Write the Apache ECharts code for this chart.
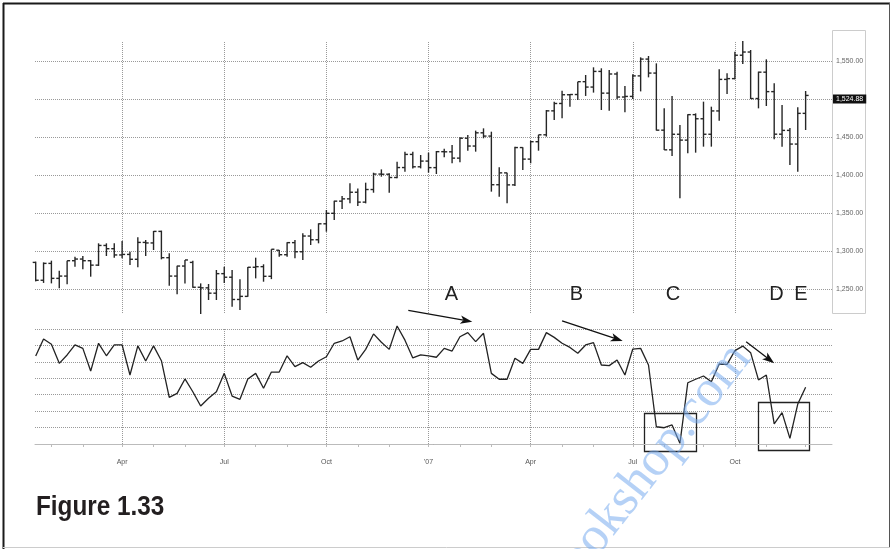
<!DOCTYPE html>
<html><head><meta charset="utf-8">
<script src="https://cdn.jsdelivr.net/npm/echarts@6/dist/echarts.min.js"></script>
<style>html,body{margin:0;padding:0;background:#fff}#c{width:894px;height:549px}</style>
</head><body><div id="c"></div>
<script>
// ---- data (weekly bars, each plotted at its week start, Saturday) ----
const firstWeekStart = '2006-01-14';
const opens = [1285,1261.5,1283.7,1264,1267,1287.2,1289.4,1287.2,1281.4,1307.3,1303,1294.8,1295.5,1289.1,1311.3,1310.6,1325.8,1291.2,1267,1280.2,1285,1252.3,1251.5,1244.5,1270.2,1265.5,1236.2,1240.3,1278.6,1279.4,1266.7,1301,1295.1,1311,1299,1319.7,1314.8,1335.8,1349.6,1365.6,1368.6,1377.3,1364.3,1380.9,1401.2,1401,1396.7,1409.8,1427.1,1410.8,1418.3,1409.7,1430.7,1430.5,1422.2,1448.4,1438.1,1455.5,1451.2,1387.2,1402.8,1387,1436.1,1420.9,1443.8,1452.9,1484.4,1494.1,1505.6,1505.9,1522.8,1515.7,1536.3,1507.7,1532.9,1502.6,1503.4,1530.4,1552.5,1534.1,1459,1433.1,1453.6,1445.9,1479.4,1474,1453.6,1484.3,1525.8,1526.8,1557.6,1561.8,1500.6,1535.3,1509.7,1453.7,1458.7,1440.7,1481.1];
const highs = [1286,1285,1287.3,1274.1,1287.3,1292.5,1293.4,1288.2,1310.1,1310.1,1310.1,1313.2,1299.1,1318,1314.5,1326.3,1326.8,1296.9,1280.5,1288.2,1287.3,1257.4,1256.6,1275,1279.4,1275,1262.8,1279,1291.2,1282.5,1302.3,1301.3,1311.4,1314.4,1323.2,1328.5,1336.4,1353.9,1366.2,1372.3,1389,1382.4,1389.9,1403,1407.4,1402.2,1417.5,1430.7,1430.7,1426.3,1429.4,1431.6,1434.7,1439.5,1449.6,1452.7,1458.4,1461.4,1457,1410.1,1403.1,1437.3,1436.4,1445.2,1452.9,1485.5,1496.5,1511,1506.6,1522.8,1531.6,1541.7,1540.4,1538.2,1536,1517.1,1532.5,1554.8,1556.6,1546.9,1487.7,1504,1465.8,1479.8,1481.1,1496.5,1489.9,1539,1533.8,1562.3,1576.3,1564.5,1536,1552.2,1520.6,1492.1,1462,1489,1510.5];
const lows = [1260,1258,1257.4,1251,1256.1,1279.4,1275.9,1266.2,1280.3,1293.4,1291.2,1290.3,1281.6,1278.5,1293.4,1301.3,1289,1254.4,1243,1257.4,1251.8,1217.1,1235.5,1235.5,1258,1226.8,1222.4,1239.9,1264,1259.6,1263,1292.5,1292.5,1290.3,1288.1,1307.9,1310.1,1325.4,1340.8,1355.2,1362.7,1359.2,1362.7,1376.7,1397.8,1376.7,1395.6,1404.4,1408.7,1408.7,1403.1,1401.3,1423.3,1415.4,1416.7,1432,1430.7,1448.3,1378.1,1371.5,1362.7,1385.5,1406.6,1415.4,1432,1450.5,1472.4,1474.6,1489.9,1498.7,1504,1508.4,1485.5,1484.7,1499.6,1482.5,1500,1510,1528.5,1458.5,1432.9,1425,1369.3,1428.5,1429.4,1437.3,1437.3,1471.5,1506.6,1525.9,1546.1,1500,1487.7,1490.8,1446.9,1437.3,1413.2,1404.4,1459.2];
const closes = [1261.5,1283.7,1264,1267,1287.2,1289.4,1287.2,1281.4,1307.3,1303,1294.8,1295.5,1289.1,1311.3,1310.6,1325.8,1291.2,1267,1280.2,1288.2,1252.3,1251.5,1244.5,1270.2,1265.5,1236.2,1240.3,1278.6,1279.4,1266.7,1302.3,1295.1,1311,1299,1319.7,1314.8,1335.8,1349.6,1365.6,1368.6,1377.3,1364.3,1380.9,1401.2,1401,1396.7,1409.8,1427.1,1410.8,1418.3,1409.7,1430.7,1430.5,1422.2,1448.4,1438.1,1455.5,1451.2,1387.2,1402.8,1387,1436.1,1420.9,1443.8,1452.9,1484.4,1494.1,1505.6,1505.9,1522.8,1515.7,1536.3,1507.7,1532.9,1502.6,1503.4,1530.4,1552.5,1534.1,1459,1433.1,1453.6,1445.9,1479.4,1474,1453.6,1484.3,1525.8,1526.8,1557.6,1561.8,1500.6,1535.3,1509.7,1453.7,1458.7,1440.7,1481.1,1504.7];
const oscillator = [53.6,63.9,60.7,49.1,54.2,60.3,58.2,44.4,61.3,53.7,60.3,60.3,42.0,59.7,50.5,59.7,50.7,28.4,30.8,39.6,31.8,23.1,27.8,31.8,43.0,29.2,27.2,39.6,43.0,33.9,43.8,43.8,53.7,47.1,49.5,46.7,50.5,53.1,61.3,62.7,65.3,51.1,57.6,67.0,61.9,57.6,71.8,63.2,52.4,54.3,53.7,52.8,58.2,56.6,65.3,67.8,62.3,67.4,43.0,39.4,39.4,52.2,49.1,57.6,57.6,67.8,64.9,61.3,58.8,55.2,60.3,61.7,48.1,47.7,51.1,42.0,57.8,58.2,48.1,10.5,9.9,11.6,0.4,37.3,39.4,41.4,37.9,48.7,48.5,56.8,59.6,55.6,39.0,42.0,12.2,19.1,3.4,24.3,34.5];
const priceTicks = [1250,1300,1350,1400,1450,1500,1550];
const lastPriceTag = '1,524.88';
const tagLevel = 1500;
const quarterLabels = ['Apr','Jul','Oct',"'07",'Apr','Jul','Oct'];
const letters = ['A','B','C','D','E'];
// annotation anchors (date, oscillator value)
const arrows = [
  [['2006-12-12',81.3],['2007-02-07',74.4]],
  [['2007-04-28',75.0],['2007-06-21',62.7]],
  [['2007-10-09',62.3],['2007-11-03',49.2]]
];
const boxes = [
  [['2007-07-10',18.7],['2007-08-25',-4.3]],
  [['2007-10-20',25.6],['2007-12-04',-3.7]]
];

// ---- helpers ----
const DAY = 86400000;
function utc(s){const p=s.split('-').map(Number);return Date.UTC(p[0],p[1]-1,p[2]);}
const t0 = utc(firstWeekStart);
const weeks = closes.map((_, i) => t0 + i * 7 * DAY);
const monthTicks = [], quarterTicks = [];
weeks.forEach(ts => {
  for (let k = 0; k < 7; k++) {
    const d = new Date(ts + k * DAY);
    if (d.getUTCDate() === 1) {
      monthTicks.push(ts);
      if (d.getUTCMonth() % 3 === 0) quarterTicks.push(ts);
    }
  }
});
const xMin = t0 - 0.62 * DAY, xMax = t0 + 709.5 * DAY;
const ohlc = weeks.map((t, i) => [t, opens[i], highs[i], lows[i], closes[i]]);
const osc = weeks.map((t, i) => [t, oscillator[i]]);
function fmtPrice(v){return v.toLocaleString('en-US',{minimumFractionDigits:2,maximumFractionDigits:2});}

const grid = {color:'#999', type:[1,1], width:1};
const chart = echarts.init(document.getElementById('c'), null, {renderer:'canvas'});
chart.setOption({
  animation:false,
  backgroundColor:'#fff',
  textStyle:{fontFamily:'Liberation Sans, Arial, sans-serif'},
  grid:[
    {left:35, right:62, top:42, height:271},
    {left:35, right:62, top:329, height:115}
  ],
  xAxis:[
    {type:'value', gridIndex:0, min:xMin, max:xMax, axisLine:{show:false}, axisLabel:{show:false},
     axisTick:{show:false, customValues:quarterTicks}, splitLine:{show:true, lineStyle:grid}},
    {type:'value', gridIndex:1, min:xMin, max:xMax, offset:9,
     axisLine:{show:true, lineStyle:{color:'#bbb', width:1}},
     axisTick:{show:true, customValues:monthTicks, length:3, lineStyle:{color:'#bbb'}},
     axisLabel:{show:true, customValues:quarterTicks, fontSize:7, color:'#555', margin:6,
       formatter:(v)=>quarterLabels[quarterTicks.indexOf(v)] || ''},
     splitLine:{show:false}},
    {type:'value', gridIndex:1, min:xMin, max:xMax, axisLine:{show:false}, axisLabel:{show:false},
     axisTick:{show:false, customValues:quarterTicks}, splitLine:{show:true, lineStyle:grid}}
  ],
  yAxis:[
    {type:'value', gridIndex:0, position:'right', min:1218.42, max:1575,
     axisLine:{show:false}, axisTick:{show:false, customValues:priceTicks},
     axisLabel:{customValues:priceTicks, margin:1,
       formatter:(v)=> v===tagLevel ? '{tag|'+lastPriceTag+'}' : '{n|'+fmtPrice(v)+'}',
       rich:{n:{fontSize:7, color:'#666', padding:[0,0,0,3]},
             tag:{fontSize:7, color:'#fff', backgroundColor:'#111', padding:[1,3,1,3]}}},
     splitLine:{show:true, lineStyle:grid}},
    {type:'value', gridIndex:1, min:0, max:70, interval:10,
     axisLine:{show:false}, axisTick:{show:false}, axisLabel:{show:false},
     splitLine:{show:true, lineStyle:grid}}
  ],
  series:[
    {type:'custom', xAxisIndex:0, yAxisIndex:0, data:ohlc, encode:{x:0, y:[1,2,3,4]}, clip:false,
     renderItem:function(params, api){
       const t = api.value(0);
       const pO = api.coord([t, api.value(1)]);
       const pH = api.coord([t, api.value(2)]);
       const pL = api.coord([t, api.value(3)]);
       const pC = api.coord([t, api.value(4)]);
       const st = {stroke:'#262626', lineWidth:1.4};
       return {type:'group', children:[
         {type:'line', shape:{x1:pH[0], y1:pH[1], x2:pL[0], y2:pL[1]}, style:st},
         {type:'line', shape:{x1:pO[0]-3, y1:pO[1], x2:pO[0], y2:pO[1]}, style:st},
         {type:'line', shape:{x1:pC[0], y1:pC[1], x2:pC[0]+3, y2:pC[1]}, style:st}
       ]};
     }},
    {type:'line', xAxisIndex:1, yAxisIndex:1, data:osc, showSymbol:false, clip:false,
     lineStyle:{color:'#222', width:1.3}, silent:true}
  ]
});

// ---- annotations, placed through the lower panel's scales ----
const toPx = (d, v) => chart.convertToPixel({xAxisIndex:1, yAxisIndex:1}, [utc(d), v]);
const ann = [];
arrows.forEach(a => {
  const p1 = toPx(a[0][0], a[0][1]), p2 = toPx(a[1][0], a[1][1]);
  const dx = p2[0]-p1[0], dy = p2[1]-p1[1], L = Math.hypot(dx, dy);
  const ux = dx/L, uy = dy/L, nx = -uy, ny = ux;
  const len = 12, hw = 4.2, notch = 9;
  const back = [p2[0]-ux*len, p2[1]-uy*len], mid = [p2[0]-ux*notch, p2[1]-uy*notch];
  ann.push({type:'line', shape:{x1:p1[0], y1:p1[1], x2:mid[0], y2:mid[1]}, style:{stroke:'#111', lineWidth:1.3}});
  ann.push({type:'polygon', shape:{points:[p2, [back[0]+nx*hw, back[1]+ny*hw], mid, [back[0]-nx*hw, back[1]-ny*hw]]}, style:{fill:'#111'}});
});
boxes.forEach(b => {
  const p1 = toPx(b[0][0], b[0][1]), p2 = toPx(b[1][0], b[1][1]);
  ann.push({type:'rect', shape:{x:Math.round(p1[0])+0.5, y:Math.round(p1[1])+0.5, width:Math.round(p2[0]-p1[0]), height:Math.round(p2[1]-p1[1])},
            style:{fill:'none', stroke:'#222', lineWidth:1.3}});
});
const letterX = [451.5, 576.5, 673, 776.5, 801];
letters.forEach((t, i) => ann.push({type:'text', x:letterX[i], y:294,
  style:{text:t, fontSize:20, fontFamily:'Liberation Sans', fill:'#222', textAlign:'center', textVerticalAlign:'middle'}}));

chart.setOption({graphic:[
  {type:'line', shape:{x1:3, y1:3.5, x2:890, y2:3.5}, style:{stroke:'#1a1a1a', lineWidth:2}},
  {type:'line', shape:{x1:3.5, y1:3, x2:3.5, y2:549}, style:{stroke:'#1a1a1a', lineWidth:2}},
  {type:'line', shape:{x1:889.5, y1:3, x2:889.5, y2:547}, style:{stroke:'#555', lineWidth:1}},
  {type:'line', shape:{x1:3, y1:547.5, x2:890, y2:547.5}, style:{stroke:'#ccc', lineWidth:1}},
  {type:'rect', shape:{x:832.5, y:30.5, width:33, height:283}, style:{fill:'none', stroke:'#ccc', lineWidth:1}},
  ...ann,
  {type:'text', x:36, y:507.5, scaleX:0.9,
   style:{text:'Figure 1.33', fontSize:27, fontWeight:'bold', fontFamily:'Liberation Sans', fill:'#231f20', textAlign:'left', textVerticalAlign:'middle'}},
  {type:'text', x:762, y:366, rotation:52*Math.PI/180, z:100,
   style:{text:'ebookshop.com', fontSize:52, fontFamily:'Liberation Serif', fill:'rgba(120,172,238,0.55)', textAlign:'right', textVerticalAlign:'bottom'}}
]});
</script></body></html>
